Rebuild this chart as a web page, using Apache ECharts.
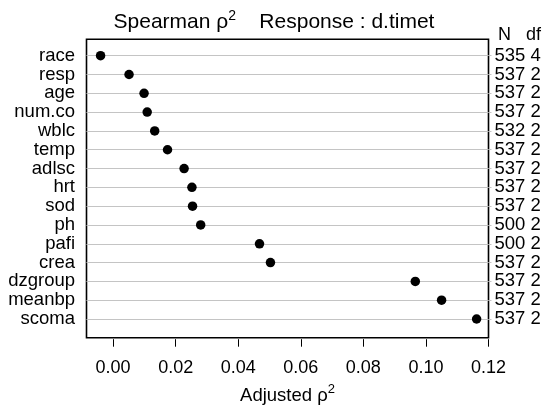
<!DOCTYPE html>
<html>
<head>
<meta charset="utf-8">
<script src="https://cdn.jsdelivr.net/npm/echarts@6/dist/echarts.min.js"></script>
<style>html,body{margin:0;padding:0;background:#fff}#c{width:548px;height:407px}</style>
</head>
<body>
<div id="c"></div>
<script>
var variables = ["race","resp","age","num.co","wblc","temp","adlsc","hrt","sod","ph","pafi","crea","dzgroup","meanbp","scoma"];
var adjRho2 = [-0.0040,0.0051,0.0099,0.0109,0.0133,0.0174,0.0227,0.0252,0.0254,0.0280,0.0468,0.0503,0.0966,0.1050,0.1162];
var nValues = [535,537,537,537,532,537,537,537,537,500,500,537,537,537,537];
var dfValues = [4,2,2,2,2,2,2,2,2,2,2,2,2,2,2];
var xTicks = [0,0.02,0.04,0.06,0.08,0.10,0.12];
var xMin = -0.0085, xMax = 0.12;

var font = "'Liberation Sans', Arial, Helvetica, sans-serif";
var rightLabels = nValues.map(function(n,i){ return n + " " + dfValues[i]; });

var chart = echarts.init(document.getElementById('c'), null, {renderer:'canvas'});
chart.setOption({
  animation: false,
  backgroundColor: '#ffffff',
  textStyle: {fontFamily: font, color: '#000'},
  title: [{
    text: '{a|Spearman ρ}{s|2}{a|    Response : d.timet}',
    left: 'center', top: 4,
    textStyle: {
      rich: {
        a: {fontFamily: font, fontSize: 21, color: '#000', fontWeight: 'normal', lineHeight: 24, verticalAlign: 'bottom'},
        s: {fontFamily: font, fontSize: 14, color: '#000', fontWeight: 'normal', lineHeight: 24, verticalAlign: 'top'}
      }
    }
  }, {
    text: 'N   df', right: 2, top: 21,
    textStyle: {fontFamily: font, fontSize: 18, color: '#000', fontWeight: 'normal'}
  }],
  grid: [
    {left: 86.5, right: 59.5, top: 39.3, bottom: 69.3, show: true, borderColor: '#000', borderWidth: 1.6, backgroundColor: 'transparent', containLabel: false, outerBoundsMode: 'none'},
    {left: 86.5, right: 59.5, top: 55.7, bottom: 88, containLabel: false, outerBoundsMode: 'none'}
  ],
  xAxis: [{
    gridIndex: 0, type: 'value', min: xMin, max: xMax, position: 'bottom', offset: 1.5,
    axisLine: {show: true, onZero: false, lineStyle: {color: 'rgba(0,0,0,0)', width: 1}},
    splitLine: {show: false},
    axisTick: {show: true, inside: false, length: 7.5, lineStyle: {color: '#000', width: 1}, customValues: xTicks},
    axisLabel: {show: true, margin: 20, fontSize: 18, color: '#000', fontFamily: font, customValues: xTicks,
      formatter: function(v){ return v.toFixed(2); }},
    name: '{a|Adjusted ρ}{s|2}', nameLocation: 'middle', nameGap: 44,
    nameTextStyle: {rich: {
      a: {fontFamily: font, fontSize: 18.5, color: '#000', lineHeight: 22, verticalAlign: 'bottom'},
      s: {fontFamily: font, fontSize: 13, color: '#000', lineHeight: 22, verticalAlign: 'top'}
    }}
  }, {
    gridIndex: 1, type: 'value', min: xMin, max: xMax, show: false
  }],
  yAxis: [{
    gridIndex: 0, type: 'value', show: false
  }, {
    gridIndex: 1, type: 'category', data: variables, inverse: true, boundaryGap: false, position: 'left',
    axisLine: {show: false}, axisTick: {show: false},
    axisLabel: {interval: 0, margin: 11.5, fontSize: 18.5, color: '#000', fontFamily: font},
    splitLine: {show: true, interval: 0, lineStyle: {color: '#c4c4c4', width: 1}}
  }, {
    gridIndex: 1, type: 'category', data: rightLabels, inverse: true, boundaryGap: false, position: 'right',
    axisLine: {show: false},
    axisTick: {show: true, interval: 0, length: 3, lineStyle: {color: '#c4c4c4', width: 1}},
    axisLabel: {interval: 0, margin: 6, fontSize: 18.5, color: '#000', fontFamily: font},
    splitLine: {show: false}
  }],
  series: [{
    type: 'scatter', xAxisIndex: 1, yAxisIndex: 1,
    data: adjRho2.map(function(v,i){ return [v, variables[i]]; }),
    symbol: 'circle', symbolSize: 9.5,
    itemStyle: {color: '#000', opacity: 1},
    silent: true
  }]
});
</script>
</body>
</html>
